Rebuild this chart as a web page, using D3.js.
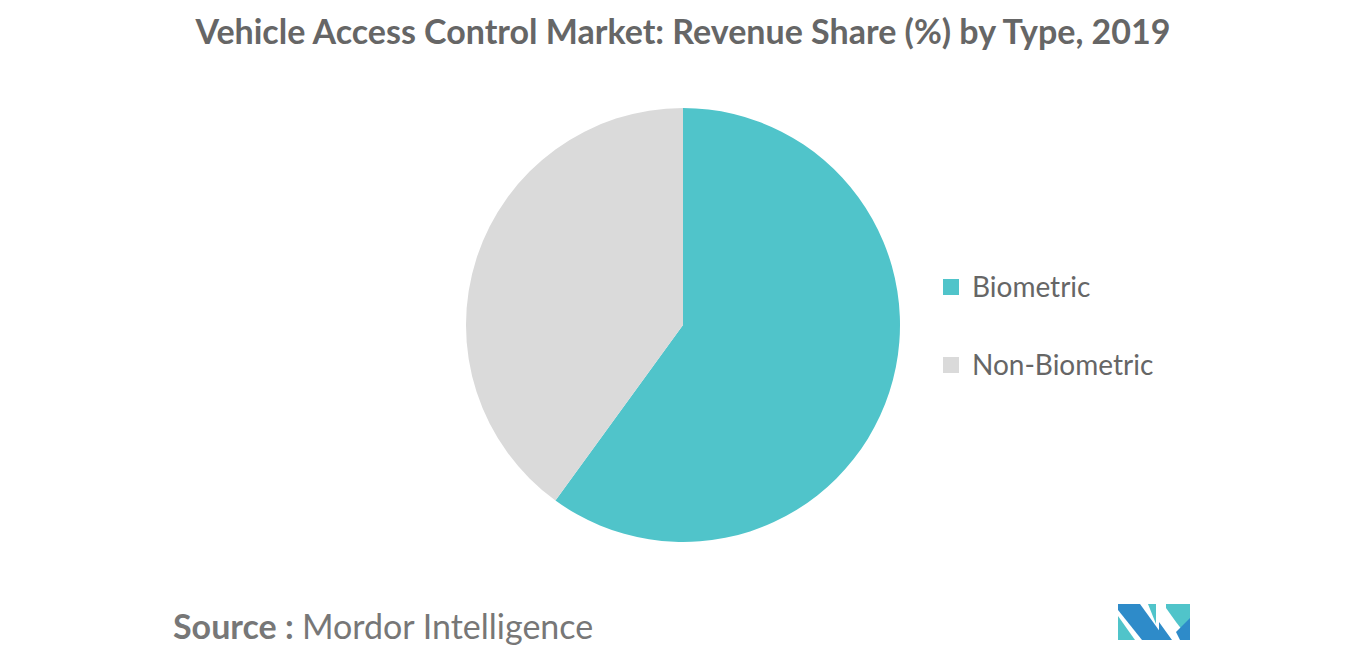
<!DOCTYPE html>
<html><head><meta charset="utf-8">
<script src="https://cdn.jsdelivr.net/npm/d3@7"></script>
<style>body{margin:0;background:#fff}svg{display:block}</style>
</head><body><svg width="1366" height="655"></svg>
<script>
const categories = ["Biometric", "Non-Biometric"];
const values = [60, 40];
const colors = ["#50c4ca", "#dadada"];
const svg = d3.select("svg");
const font = "Lato, 'Open Sans', sans-serif";
svg.append("text").attr("x",683).attr("y",44).attr("text-anchor","middle")
  .style("font-family",font).style("font-size","34px").style("font-weight","bold").attr("fill","#666")
  .text("Vehicle Access Control Market: Revenue Share (%) by Type, 2019");
const pie = d3.pie().sort(null)(values);
const arc = d3.arc().innerRadius(0).outerRadius(217);
svg.append("g").attr("transform","translate(683,325)").selectAll("path").data(pie).enter()
  .append("path").attr("d",arc).attr("fill",(d,i)=>colors[i]);
const lg = svg.append("g");
categories.forEach((c,i)=>{
  const y = 287 + i*78;
  lg.append("rect").attr("x",943).attr("y",y-8).attr("width",16).attr("height",16).attr("fill",colors[i]);
  lg.append("text").attr("x",972).attr("y",y+10).style("font-family",font).style("font-size","28px").attr("fill","#666").text(c);
});
const s = svg.append("text").attr("x",173).attr("y",639).style("font-family",font).style("font-size","34px").attr("fill","#777");
s.append("tspan").style("font-weight","bold").text("Source : ");
s.append("tspan").text("Mordor Intelligence");
const logo = svg.append("g").attr("transform","translate(1118,604)");
const polys = [
  ["#2e8bc9","0,0 22,0 48,36 24,36 0,6"],
  ["#50c4ca","0,12 0,36 17,36"],
  ["#50c4ca","30,0 38,0 38,20"],
  ["#2e8bc9","41,12 41,36 54,36 41,18"],
  ["#50c4ca","48,0 72,0 72,36 58,18 48,4"],
  ["#2e8bc9","58,28 72,14 72,36 62,36"]
];
polys.forEach(p=>logo.append("polygon").attr("points",p[1]).attr("fill",p[0]));
</script></body></html>
